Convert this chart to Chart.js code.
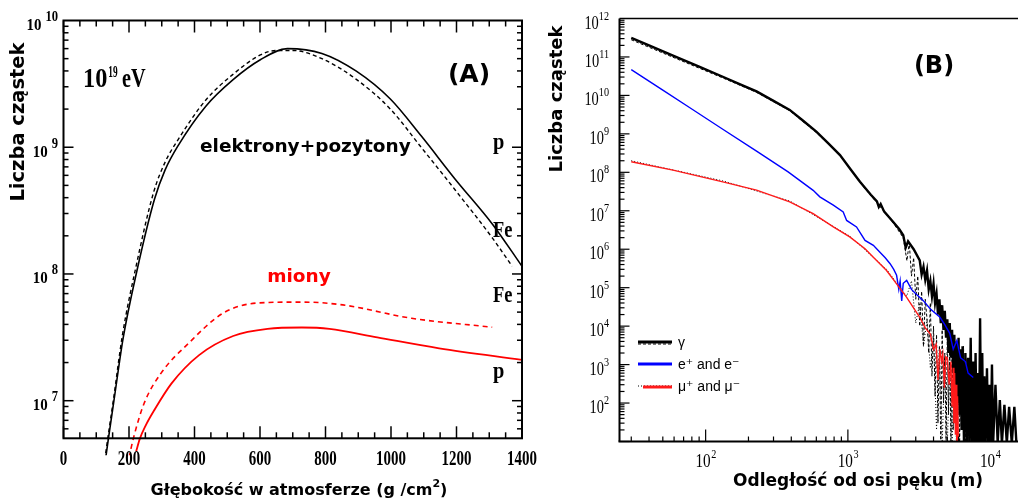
<!DOCTYPE html>
<html>
<head>
<meta charset="utf-8">
<script src="https://cdn.jsdelivr.net/npm/chart.js@4.4.1/dist/chart.umd.min.js"></script>
<style>
  body { margin: 0; background: #fff; width: 1018px; height: 500px; overflow: hidden; position: relative; }
  #chartA { position: absolute; left: 0; top: 0; }
  #chartB { position: absolute; left: 540px; top: 0; }
</style>
</head>
<body>
<canvas id="chartA" width="540" height="500"></canvas>
<canvas id="chartB" width="478" height="500"></canvas>
<script>
/* ---------- panel A: longitudinal profile, 10^19 eV ---------- */
const depthTicks = [0, 200, 400, 600, 800, 1000, 1200, 1400];
const decadesA = [7, 8, 9, 10];

// e+e-, proton primary (solid) and iron primary (dashed)
const depthEleP = [125, 137, 154, 182, 222, 278, 310, 350, 434, 517, 601, 684, 789, 893, 998, 1092, 1196, 1311, 1400];
const eleP      = [3.0e6, 5.0e6, 1.0e7, 3.1e7, 1.0e8, 3.9e8, 6.6e8, 1.03e9, 2.1e9, 3.4e9, 4.9e9, 6.0e9, 5.5e9, 4.0e9, 2.4e9, 1.23e9, 5.6e8, 2.45e8, 1.15e8];
const depthEleFe = [123, 135, 152, 180, 220, 275, 310, 350, 434, 517, 601, 650, 700, 789, 893, 998, 1092, 1196, 1311, 1370];
const eleFe      = [3.0e6, 5.0e6, 1.0e7, 3.3e7, 1.1e8, 4.4e8, 7.6e8, 1.15e9, 2.35e9, 3.75e9, 5.35e9, 5.8e9, 5.8e9, 5.0e9, 3.45e9, 2.0e9, 1.0e9, 4.6e8, 1.9e8, 1.15e8];

// muons
const depthMuP = [222, 233, 250, 277, 330, 414, 518, 623, 728, 812, 958, 1147, 1400];
const muP      = [4.0e6, 5.0e6, 6.3e6, 8.4e6, 1.37e7, 2.29e7, 3.24e7, 3.69e7, 3.78e7, 3.69e7, 3.16e7, 2.59e7, 2.1e7];
const depthMuFe = [200, 213, 246, 298, 382, 487, 592, 728, 853, 1063, 1309];
const muFe      = [3.55e6, 5.0e6, 9.5e6, 1.65e7, 2.84e7, 4.9e7, 5.9e7, 6.0e7, 5.7e7, 4.47e7, 3.8e7];

/* ---------- panel B: lateral distribution ---------- */
const decadesB = [2, 3, 4, 5, 6, 7, 8, 9, 10, 11, 12];
const distDecades = [2, 3, 4];

const gammaR = [30, 40, 59, 90, 132, 180, 228, 300, 390, 480, 600, 720, 880, 1050, 1216, 1450, 1600, 1650, 1700, 1800, 2084, 2300, 2450, 2550, 2650, 2900,
  3200, 3300, 3400, 3500, 3600, 3700, 3800, 3900, 4000, 4100, 4200, 4300, 4400, 4500, 4600, 4700, 4800, 4900, 5000, 5100, 5200, 5300, 5400, 5500,
  5600, 5700, 5800, 5900, 6000, 6100, 6200, 6300, 6400, 6550, 6700, 6850, 7000, 7150, 7300, 7450, 7600, 7750, 7900, 8050, 8200, 8350, 8500, 8650,
  8800, 8950, 9100, 9300, 9500, 9700, 9900, 10100, 10300, 10500, 10900, 11300, 11700, 12100, 12600, 13100, 13600, 14200, 14800, 15300];
const gammaN = [3.13e11, 1.99e11, 1.08e11, 5.6e10, 3.06e10, 1.86e10, 1.27e10, 7.2e9, 4.2e9, 2.26e9, 1.14e9, 5.9e8, 2.81e8, 1.17e8, 5.66e7, 2.6e7, 1.75e7, 1.25e7, 1.5e7, 9.5e6, 5.1e6, 3.3e6, 2.3e6, 1.1e6, 1.6e6, 1.0e6,
  5.1e5, 2.2e5, 3.5e5, 1.6e5, 2.8e5, 9e4, 1.5e5, 6e4, 1.26e5, 4e4, 7e4, 2e4, 5e4, 1.2e4, 3.5e4, 8e3, 2.5e4, 5e3, 1.5e4, 2e3, 1.2e4, 1.5e3, 8e3, 6e2,
  6e3, 3e2, 4e3, 1e2, 5e3, 50, 2.5e3, 20, 3e3, 9, 2e3, 9, 1.5e3, 9, 5e3, 9, 1.2e3, 9, 2e3, 9, 6e2, 9, 1.6e4, 9,
  2e3, 9, 5e2, 9, 8e2, 9, 3e2, 9, 1e3, 9, 3e2, 9, 1.2e2, 9, 90, 9, 80, 9, 80, 9];

const gammaDashR = [30, 59, 132, 228, 390, 600, 880, 1216, 1680, 2084, 2450, 2600, 2700, 2800, 2900, 3000, 3100, 3200, 3300, 3400, 3500, 3600, 3700, 3800, 3900, 4000, 4100, 4200, 4300, 4400, 4500, 4600, 4700, 4800, 4900, 5000, 5100, 5200, 5300, 5400, 5500, 5600, 5700, 5800, 5900, 6000, 6100, 6200, 6300, 6500, 6700, 6900, 7100, 7300, 7500];
const gammaDashN = [2.8e11, 9.8e10, 2.85e10, 1.2e10, 4.0e9, 1.08e9, 2.7e8, 5.4e7, 1.3e7, 4.8e6, 2.0e6, 5e5, 1.5e6, 2e5, 6e5, 5e4, 2e5, 1e4, 8e4, 3e3, 5e4, 1.5e4, 2e3, 4e4, 5e2, 1e4, 1.5e2, 6e3, 30, 3e3, 8, 8e3, 1e2, 2e3, 8, 6e3, 50, 4e3, 8, 3e3, 20, 2e3, 30, 1.5e3, 8, 1e3, 8, 5e2, 20, 3e3, 8, 1.5e3, 15, 4e2, 8];

const elR = [30, 50, 77, 132, 228, 380, 570, 635, 790, 927, 980, 1150, 1320, 1510, 1680, 1830, 1980, 2100, 2200, 2280, 2330, 2390, 2450, 2590, 2800, 3000, 3390, 3800, 4440, 4800, 5200, 5500, 5830, 6200, 6700, 7000, 7610];
const elN = [4.7e10, 1.37e10, 4.85e9, 1.32e9, 3.54e8, 1.03e8, 3.4e7, 2.3e7, 1.4e7, 9.3e6, 5.6e6, 3.8e6, 1.7e6, 1.26e6, 8.3e5, 6e5, 4.2e5, 3e5, 2.1e5, 9e4, 1.5e5, 4.5e4, 1.3e5, 1.55e5, 9e4, 7e4, 4.6e4, 2.8e4, 1.7e4, 1.1e4, 6.5e3, 2.5e3, 4.2e3, 1.5e3, 1.2e3, 6e2, 4.6e2];

const muR = [30, 59, 132, 228, 390, 570, 790, 1030, 1320, 1510, 1870, 2200, 2590, 3200, 3500, 3800, 4000, 4170, 4300, 4440, 4550, 4650, 4770, 4880, 5000, 5150, 5300, 5400, 5500, 5560, 5630, 5700, 5760, 5830, 5900, 6000];
const muN = [1.88e8, 1.14e8, 5.66e7, 3.43e7, 1.7e7, 8.45e6, 3.8e6, 2.09e6, 1.03e6, 6.2e5, 2.8e5, 1.26e5, 5.6e4, 1.7e4, 9e3, 6.2e3, 2.5e3, 3.4e3, 4e2, 2.5e3, 1.2e3, 1.9e3, 2.5e2, 1.6e3, 1.5e3, 3e2, 1.2e3, 80, 8.3e2, 30, 6e2, 15, 3e2, 8, 1.5e2, 5];

const muDotR = [30, 132, 390, 1030, 1870, 2590, 2800, 3000, 3200, 3400, 3600, 3800, 4000, 4200, 4400, 4600, 4800, 5000, 5200, 5400, 5600, 5800, 6000];
const muDotN = [2.0e8, 6.0e7, 1.8e7, 2.2e6, 3.0e5, 6.0e4, 1.5e5, 1.2e4, 4e4, 3e3, 1.5e4, 8e2, 5e3, 20, 3e3, 8, 1.5e3, 8, 1e3, 8, 4e2, 8, 8];

const pts = (xs, ys) => xs.map((x, i) => ({ x, y: ys[i] }));

function line(ctx, x1, y1, x2, y2) {
  ctx.beginPath(); ctx.moveTo(x1, y1); ctx.lineTo(x2, y2); ctx.stroke();
}

// serif text squeezed horizontally (the axis fonts are narrow)
function condText(ctx, str, x, y, size, sx, align, weight) {
  ctx.save();
  ctx.font = `${weight} ${size}px "Liberation Serif", "DejaVu Serif", serif`;
  const w = ctx.measureText(str).width * sx;
  const x0 = align === 'center' ? x - w / 2 : align === 'right' ? x - w : x;
  ctx.translate(x0, y);
  ctx.scale(sx, 1);
  ctx.textAlign = 'left';
  ctx.textBaseline = 'alphabetic';
  ctx.fillText(str, 0, 0);
  ctx.restore();
  return w;
}

function sansText(ctx, str, x, y, size, align, color) {
  ctx.font = `bold ${size}px "DejaVu Sans", sans-serif`;
  ctx.fillStyle = color || '#000';
  ctx.textAlign = align;
  ctx.textBaseline = 'alphabetic';
  ctx.fillText(str, x, y);
}

function yTitle(ctx, str, cx, cy, size) {
  ctx.save();
  ctx.translate(cx, cy);
  ctx.rotate(-Math.PI / 2);
  ctx.font = `bold ${size}px "DejaVu Sans", sans-serif`;
  ctx.fillStyle = '#000';
  ctx.textAlign = 'center';
  ctx.textBaseline = 'middle';
  ctx.fillText(str, 0, 0);
  ctx.restore();
}

const axesA = {
  id: 'axesA',
  afterDatasetsDraw(chart) {
    const { ctx, chartArea: a, scales: { x, y } } = chart;
    ctx.save();
    ctx.strokeStyle = '#000';
    ctx.fillStyle = '#000';
    ctx.lineWidth = 2;
    ctx.strokeRect(a.left, a.top, a.right - a.left, a.bottom - a.top);

    ctx.lineWidth = 1.5;
    for (let d = 0; d <= 1400; d += 50) {
      const px = x.getPixelForValue(d);
      const len = d % 200 === 0 ? 12 : 6;
      line(ctx, px, a.bottom, px, a.bottom - len);
      line(ctx, px, a.top, px, a.top + len);
    }
    for (let e = 6; e <= 9; e++) {
      for (let m = 1; m <= 9; m++) {
        const v = m * Math.pow(10, e);
        if (v < y.min || v > y.max) continue;
        const py = y.getPixelForValue(v);
        const len = m === 1 ? 10 : 5;
        line(ctx, a.left, py, a.left + len, py);
        line(ctx, a.right, py, a.right - len, py);
      }
    }

    // tick labels
    depthTicks.forEach(d => {
      condText(ctx, String(d), x.getPixelForValue(d), 465, 22, 0.68, 'center', 'bold');
    });
    decadesA.forEach(e => {
      const py = y.getPixelForValue(Math.pow(10, e));
      const w = condText(ctx, String(e), 58, py + 0.5, 14, 0.9, 'right', 'bold');
      condText(ctx, '10', 58 - w - 4, py + 9.5, 17, 0.88, 'right', 'bold');
    });

    // axis titles
    yTitle(ctx, 'Liczba cząstek', 19, 122, 19.5);
    ctx.font = 'bold 16px "DejaVu Sans", sans-serif';
    const t1 = 'Głębokość w atmosferze (g /cm';
    const w1 = ctx.measureText(t1).width;
    ctx.font = 'bold 11px "DejaVu Sans", sans-serif';
    const w2 = ctx.measureText('2').width;
    ctx.font = 'bold 16px "DejaVu Sans", sans-serif';
    const w3 = ctx.measureText(')').width;
    const x0 = 299 - (w1 + w2 + w3) / 2;
    sansText(ctx, t1, x0, 495, 16, 'left');
    sansText(ctx, '2', x0 + w1, 487, 11, 'left');
    sansText(ctx, ')', x0 + w1 + w2, 495, 16, 'left');

    // annotations
    const w10 = condText(ctx, '10', 83, 87, 27, 0.9, 'left', 'bold');
    condText(ctx, '19', 83 + w10 + 1, 77, 17, 0.55, 'left', 'bold');
    condText(ctx, 'eV', 122, 87, 27, 0.75, 'left', 'bold');
    sansText(ctx, '(A)', 469, 82, 25, 'center');
    sansText(ctx, 'elektrony+pozytony', 200, 152, 18.5, 'left');
    sansText(ctx, 'miony', 299, 282, 18.5, 'center', '#ff0000');
    ctx.fillStyle = '#000';
    condText(ctx, 'p', 493, 149, 24, 0.85, 'left', 'bold');
    condText(ctx, 'Fe', 493, 237, 23, 0.8, 'left', 'bold');
    condText(ctx, 'Fe', 493, 302, 23, 0.8, 'left', 'bold');
    condText(ctx, 'p', 493, 378, 24, 0.85, 'left', 'bold');
    ctx.restore();
  }
};

const axesB = {
  id: 'axesB',
  afterDatasetsDraw(chart) {
    const { ctx, chartArea: a, scales: { x, y } } = chart;
    ctx.save();
    ctx.strokeStyle = '#000';
    ctx.fillStyle = '#000';
    ctx.lineWidth = 2;
    line(ctx, a.left, a.top, a.left, a.bottom);
    line(ctx, a.left - 1, a.bottom, a.right, a.bottom);
    ctx.lineWidth = 1.5;
    line(ctx, a.left, a.top, a.right, a.top);

    ctx.lineWidth = 1.2;
    for (let e = 1; e <= 11; e++) {
      for (let m = 1; m <= 9; m++) {
        const v = m * Math.pow(10, e);
        if (v < y.min || v > y.max) continue;
        const py = y.getPixelForValue(v);
        line(ctx, a.left, py, a.left + (m === 1 ? 10 : 5), py);
      }
    }
    for (let e = 1; e <= 4; e++) {
      for (let m = 1; m <= 9; m++) {
        const v = m * Math.pow(10, e);
        if (v < x.min || v > x.max) continue;
        const px = x.getPixelForValue(v);
        line(ctx, px, a.bottom, px, a.bottom - (m === 1 ? 12 : 5));
      }
    }

    decadesB.forEach(e => {
      const py = y.getPixelForValue(Math.pow(10, e));
      const w = condText(ctx, String(e), 69, py + 1, 12, 0.85, 'right', 'normal');
      condText(ctx, '10', 69 - w, py + 10, 18, 0.8, 'right', 'normal');
    });
    distDecades.forEach(e => {
      const px = x.getPixelForValue(Math.pow(10, e));
      ctx.font = '19px "Liberation Serif", serif';
      const w10 = ctx.measureText('10').width * 0.8;
      ctx.font = '12px "Liberation Serif", serif';
      const we = ctx.measureText(String(e)).width * 0.85;
      const x0 = px - (w10 + we) / 2;
      condText(ctx, '10', x0, 467, 19, 0.8, 'left', 'normal');
      condText(ctx, String(e), x0 + w10 + 0.5, 458, 12, 0.85, 'left', 'normal');
    });

    yTitle(ctx, 'Liczba cząstek', 17, 99, 18);
    sansText(ctx, 'Odległość od osi pęku (m)', 318, 486, 17, 'center');
    sansText(ctx, '(B)', 394, 73, 24, 'center');

    // legend, built from the dataset styles
    const ds = chart.data.datasets;
    const items = [
      { y: 342, label: 'γ', sets: [ds[4], ds[3]] },
      { y: 364, label: 'e⁺ and e⁻', sets: [ds[1]] },
      { y: 386, label: 'μ⁺ and μ⁻', sets: [ds[2], ds[0]] }
    ];
    items.forEach(it => {
      it.sets.forEach((s, k) => {
        ctx.save();
        ctx.strokeStyle = s.borderColor;
        ctx.lineWidth = s.borderDash ? 1 : 3;
        ctx.setLineDash(s.borderDash || []);
        const off = it.sets.length > 1 ? (k === 0 ? 0 : (s.borderDash ? 2 : 1)) : 0;
        const x1 = s.borderDash ? 98 : (it.label[0] === 'μ' ? 103 : 98);
        line(ctx, x1, it.y + off, 132, it.y + off);
        ctx.restore();
      });
      ctx.font = '14px "Liberation Sans", "DejaVu Sans", sans-serif';
      ctx.fillStyle = '#000';
      ctx.textAlign = 'left';
      ctx.textBaseline = 'alphabetic';
      ctx.fillText(it.label, 138, it.y + 5);
    });
    ctx.restore();
  }
};

const hidden = { display: false };

new Chart(document.getElementById('chartA'), {
  type: 'line',
  data: {
    datasets: [
      { label: 'e+e- p', data: pts(depthEleP, eleP), borderColor: '#000', borderWidth: 1.6 },
      { label: 'e+e- Fe', data: pts(depthEleFe, eleFe), borderColor: '#000', borderWidth: 1.4, borderDash: [4, 3] },
      { label: 'mu p', data: pts(depthMuP, muP), borderColor: '#ff0000', borderWidth: 1.8 },
      { label: 'mu Fe', data: pts(depthMuFe, muFe), borderColor: '#ff0000', borderWidth: 1.6, borderDash: [5, 4] }
    ].map(d => Object.assign(d, { clip: { left: 0, top: 0, right: 0, bottom: 17 } }))
  },
  options: {
    responsive: false,
    animation: false,
    parsing: false,
    layout: { padding: { left: 63.5, top: 20.5, right: 18, bottom: 61.7 } },
    elements: {
      point: { radius: 0 },
      line: { cubicInterpolationMode: 'monotone', capBezierPoints: false, fill: false }
    },
    plugins: { legend: hidden, tooltip: { enabled: false } },
    scales: {
      x: { type: 'linear', min: 0, max: 1400, display: false },
      y: { type: 'logarithmic', min: 5.05e6, max: 1e10, display: false }
    }
  },
  plugins: [axesA]
});

new Chart(document.getElementById('chartB'), {
  type: 'line',
  data: {
    datasets: [
      { label: 'mu', data: pts(muR, muN), borderColor: '#ff1a1a', borderWidth: 1.4, order: 0 },
      { label: 'e', data: pts(elR, elN), borderColor: '#0000ff', borderWidth: 1.4, order: 1 },
      { label: 'mu Fe', data: pts(muDotR, muDotN), borderColor: '#000', borderWidth: 1, borderDash: [1, 2], order: 2 },
      { label: 'gamma Fe', data: pts(gammaDashR, gammaDashN), borderColor: '#000', borderWidth: 1, borderDash: [3, 2], order: 3 },
      { label: 'gamma', data: pts(gammaR, gammaN), borderColor: '#000', borderWidth: 2.4, order: 4 }
    ]
  },
  options: {
    responsive: false,
    animation: false,
    parsing: false,
    layout: { padding: { left: 79.5, top: 18.5, right: 0, bottom: 58.5 } },
    elements: { point: { radius: 0 }, line: { tension: 0, fill: false } },
    plugins: { legend: hidden, tooltip: { enabled: false } },
    scales: {
      x: { type: 'logarithmic', min: 24.8, max: 15700, display: false },
      y: { type: 'logarithmic', min: 10, max: 1e12, display: false }
    }
  },
  plugins: [axesB]
});
</script>
</body>
</html>
